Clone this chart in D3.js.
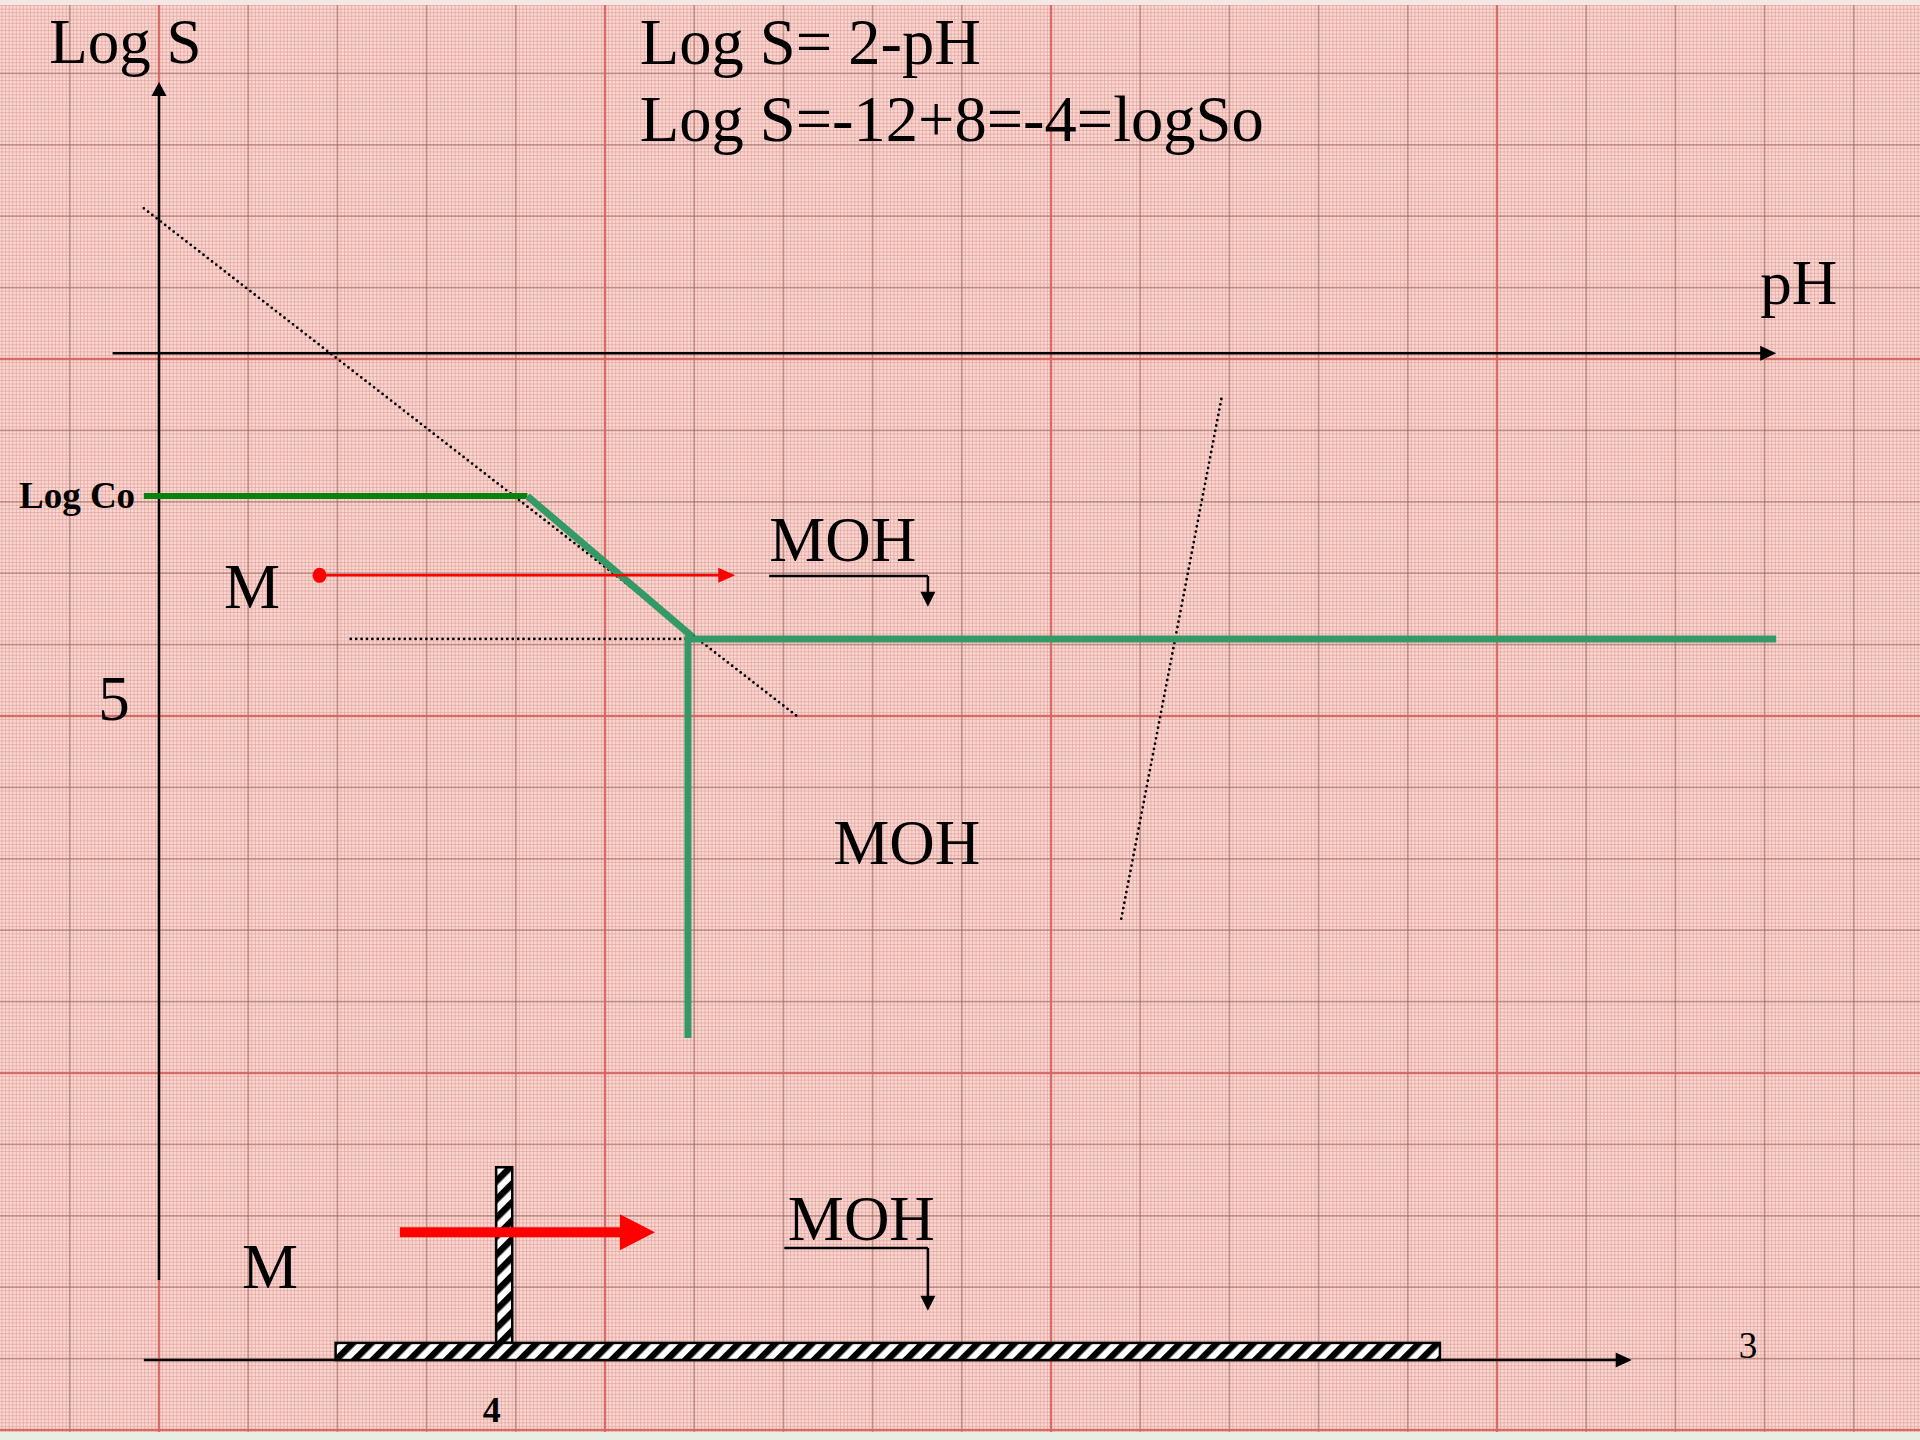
<!DOCTYPE html>
<html>
<head>
<meta charset="utf-8">
<script src="https://cdn.jsdelivr.net/npm/d3@7"></script>
<style>
  body { margin: 0; background: #f8d4cf; }
  svg { display: block; }
  text { font-family: "Liberation Serif", "Times New Roman", serif; fill: #000; }
</style>
</head>
<body>
<div id="chart"></div>
<script>
// all values in graph-paper units: u = big squares right of the Log S axis,
// v = big squares above the first red line (positive up)
const axisLogS   = [{u: 0, v: 3.88}, {u: 0, v: -12.9}]
const axisPH     = [{u: -0.52, v: 0.08}, {u: 18.13, v: 0.08}]
const axisBottom = [{u: -0.17, v: -14.02}, {u: 16.51, v: -14.02}]

const logCoLine  = [{u: -0.17, v: -1.92}, {u: 4.13, v: -1.92}]
const slopeLine  = [{u: 4.13, v: -1.92}, {u: 5.98, v: -3.89}]
const soLine     = [{u: 5.93, v: -3.92}, {u: 18.13, v: -3.92}]
const dropLine   = [{u: 5.93, v: -3.92}, {u: 5.93, v: -9.51}]

const dotLine1   = [{u: -0.17, v: 2.11}, {u: 7.15, v: -5.0}]
const dotLine2   = [{u: 11.91, v: -0.56}, {u: 10.78, v: -7.89}]
const dotLineSo  = [{u: 2.15, v: -3.92}, {u: 5.93, v: -3.92}]

const redArrow   = [{u: 1.80, v: -3.03}, {u: 6.46, v: -3.03}]
const bigArrow   = [{u: 2.70, v: -12.23}, {u: 5.56, v: -12.23}]

const mohBrackets = [
  [{u: 6.84, v: -3.04}, {u: 8.62, v: -3.04}, {u: 8.62, v: -3.47}],
  [{u: 7.01, v: -12.45}, {u: 8.62, v: -12.45}, {u: 8.62, v: -13.33}]
]

const hatchBars = [
  {u0: 3.78, u1: 3.96, v0: -11.32, v1: -13.78},
  {u0: 1.98, u1: 14.36, v0: -13.78, v1: -14.02}
]

const labels = [
  {text: "Log S", u: -1.23, v: 4.15, kind: "big"},
  {text: "Log S= 2-pH", u: 5.39, v: 4.13, kind: "formula"},
  {text: "Log S=-12+8=-4=logSo", u: 5.39, v: 3.05, kind: "formula"},
  {text: "pH", u: 17.95, v: 0.77, kind: "big"},
  {text: "Log Co", u: -1.57, v: -2.09, kind: "boldMid"},
  {text: "M", u: 0.73, v: -3.49, kind: "big"},
  {text: "MOH", u: 6.84, v: -2.83, kind: "big"},
  {text: "5", u: -0.68, v: -5.06, kind: "big"},
  {text: "MOH", u: 7.56, v: -7.07, kind: "big"},
  {text: "M", u: 0.93, v: -13.01, kind: "big"},
  {text: "MOH", u: 7.05, v: -12.34, kind: "big"},
  {text: "4", u: 3.63, v: -14.89, kind: "boldSmall"},
  {text: "3", u: 17.71, v: -13.99, kind: "small"}
]

const labelStyle = {
  big: {size: 63, weight: "normal"},
  formula: {size: 64.5, weight: "normal"},
  boldMid: {size: 37, weight: "bold"},
  boldSmall: {size: 36, weight: "bold"},
  small: {size: 37, weight: "normal"}
}

const width = 1920, height = 1440

const svg = d3.select("#chart")
  .append("svg")
  .attr("width", width)
  .attr("height", height)

// paper units -> pixels
const x = d3.scaleLinear().domain([0, 1]).range([159, 159 + 89.2])
const y = d3.scaleLinear().domain([0, 1]).range([359, 359 - 71.4])

const uMin = x.invert(0), uMax = x.invert(width)
const vMin = y.invert(height), vMax = y.invert(0)

// hatch pattern
const defs = svg.append("defs")
const hatch = defs.append("pattern")
  .attr("id", "hatch")
  .attr("patternUnits", "userSpaceOnUse")
  .attr("width", 13)
  .attr("height", 13)
  .attr("patternTransform", "rotate(45)")
hatch.append("rect").attr("width", 13).attr("height", 13).attr("fill", "#fff")
hatch.append("rect").attr("width", 6.5).attr("height", 13).attr("fill", "#000")

// graph paper
svg.append("rect")
  .attr("width", width).attr("height", height)
  .attr("fill", "#f9d8d3")

const paper = svg.append("g")
const drawGrid = (step, stroke, sw, op) => {
  d3.range(Math.ceil(uMin / step), Math.floor(uMax / step) + 1).forEach(k => {
    paper.append("line")
      .attr("x1", x(k * step)).attr("x2", x(k * step))
      .attr("y1", 0).attr("y2", height)
      .attr("stroke", stroke).attr("stroke-width", sw).attr("opacity", op)
  })
  d3.range(Math.ceil(vMin / step), Math.floor(vMax / step) + 1).forEach(k => {
    paper.append("line")
      .attr("x1", 0).attr("x2", width)
      .attr("y1", y(k * step)).attr("y2", y(k * step))
      .attr("stroke", stroke).attr("stroke-width", sw).attr("opacity", op)
  })
}
// fine grid (25 per big square horizontally, 20 vertically -> square cells)
d3.range(Math.ceil(uMin * 25), Math.floor(uMax * 25) + 1).forEach(k => {
  paper.append("line")
    .attr("x1", x(k / 25)).attr("x2", x(k / 25))
    .attr("y1", 0).attr("y2", height)
    .attr("stroke", "#e39c95").attr("stroke-width", 1).attr("opacity", 0.6)
})
d3.range(Math.ceil(vMin * 20), Math.floor(vMax * 20) + 1).forEach(k => {
  paper.append("line")
    .attr("x1", 0).attr("x2", width)
    .attr("y1", y(k / 20)).attr("y2", y(k / 20))
    .attr("stroke", "#e39c95").attr("stroke-width", 1).attr("opacity", 0.6)
})
drawGrid(1, "#9a665e", 1.8, 0.5)
drawGrid(5, "#de605b", 2.5, 0.75)

// scan edges
svg.append("rect").attr("x", 0).attr("y", 0).attr("width", width).attr("height", 5).attr("fill", "#f5e8e4")
svg.append("rect").attr("x", 0).attr("y", 1432).attr("width", width).attr("height", 8).attr("fill", "#e7eee4")

const line = d3.line().x(d => x(d.u)).y(d => y(d.v))

// arrow helper: shaft stops at head base, head drawn as triangle
const arrow = (pts, color, sw, headLen, headHalf) => {
  const p0 = [x(pts[0].u), y(pts[0].v)], p1 = [x(pts[1].u), y(pts[1].v)]
  const dx = p1[0] - p0[0], dy = p1[1] - p0[1]
  const len = Math.hypot(dx, dy), ux = dx / len, uy = dy / len
  const bx = p1[0] - ux * headLen, by = p1[1] - uy * headLen
  svg.append("line")
    .attr("x1", p0[0]).attr("y1", p0[1]).attr("x2", bx + ux).attr("y2", by + uy)
    .attr("stroke", color).attr("stroke-width", sw)
  svg.append("path")
    .attr("d", `M${p1[0]},${p1[1]}L${bx - uy * headHalf},${by + ux * headHalf}L${bx + uy * headHalf},${by - ux * headHalf}Z`)
    .attr("fill", color)
}

// dotted guide lines
;[dotLine1, dotLine2, dotLineSo].forEach(d => {
  svg.append("path")
    .datum(d)
    .attr("fill", "none")
    .attr("stroke", "#000")
    .attr("stroke-width", 2.8)
    .attr("stroke-linecap", "round")
    .attr("stroke-dasharray", "0 5.4")
    .attr("d", line)
})

// axes
arrow([axisLogS[1], axisLogS[0]], "#000", 2.5, 14, 7.5)
arrow(axisPH, "#000", 2.5, 16, 7.5)
arrow(axisBottom, "#000", 2.5, 16, 7.5)

// solubility curve
svg.append("path")
  .datum(logCoLine)
  .attr("fill", "none")
  .attr("stroke", "#0a800d")
  .attr("stroke-width", 6)
  .attr("d", line)

svg.append("path")
  .datum(slopeLine)
  .attr("fill", "none")
  .attr("stroke", "#339966")
  .attr("stroke-width", 7)
  .attr("d", line)

svg.append("path")
  .datum([soLine[1], soLine[0], dropLine[1]])
  .attr("fill", "none")
  .attr("stroke", "#339966")
  .attr("stroke-width", 7)
  .attr("d", line)

// thin red arrow with start dot
svg.append("ellipse")
  .attr("cx", x(redArrow[0].u)).attr("cy", y(redArrow[0].v))
  .attr("rx", 7).attr("ry", 7.5)
  .attr("fill", "#ff0000")
arrow(redArrow, "#ff0000", 2.5, 17, 7.5)

// MOH brackets
mohBrackets.forEach(b => {
  arrow([b[1], b[2]], "#000", 2.5, 15, 7.5)
  svg.append("path")
    .datum([b[0], b[1]])
    .attr("fill", "none")
    .attr("stroke", "#000")
    .attr("stroke-width", 2.5)
    .attr("d", line)
})

// hatched barrier
hatchBars.forEach(b => {
  svg.append("rect")
    .attr("x", x(b.u0)).attr("y", y(b.v0))
    .attr("width", x(b.u1) - x(b.u0))
    .attr("height", y(b.v1) - y(b.v0))
    .attr("fill", "url(#hatch)")
    .attr("stroke", "#000")
    .attr("stroke-width", 2.5)
})

// thick red arrow
arrow(bigArrow, "#ff0000", 10, 35, 18)

// labels
svg.selectAll("text.lbl")
  .data(labels)
  .join("text")
  .attr("class", "lbl")
  .attr("x", d => x(d.u))
  .attr("y", d => y(d.v))
  .attr("font-size", d => labelStyle[d.kind].size)
  .attr("font-weight", d => labelStyle[d.kind].weight)
  .text(d => d.text)
</script>
</body>
</html>
